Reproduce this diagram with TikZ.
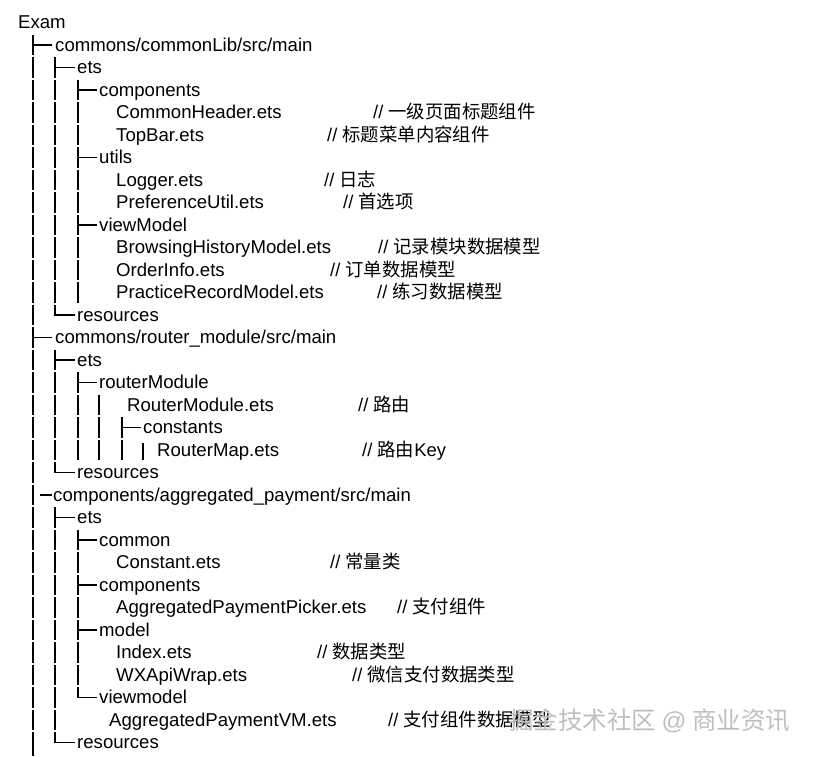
\documentclass[tikz,border=0pt]{standalone}
\usepackage{fontspec}
\setmainfont{Liberation Sans}
\newfontfamily\cjk{Noto Sans CJK SC}
\tikzset{
  tree/.style={line width=1.3pt, black},
  txt/.style={anchor=base west, inner sep=0pt, font=\fontsize{18.6}{22}\selectfont},
  cmt/.style={anchor=base west, inner sep=0pt, font=\fontsize{18.4}{22}\selectfont},
  wmark/.style={anchor=base west, inner sep=0pt, text=gray!50, font=\fontsize{24.5}{28}\selectfont\cjk}
}
% vertical run of row segments at x=#1 over rows #2..#3
\newcommand\treerun[3]{\foreach \r in {#2,...,#3}{\draw[tree] (#1,{22.5*\r+12.45}) -- (#1,{22.5*\r+32.55});}}
% tee branch at x=#1, row #2, horizontal to #3
\newcommand\treetee[3]{\draw[tree] (#1,{22.5*#2+12.45}) -- (#1,{22.5*#2+32.55}); \draw[tree] (#1,{22.5*#2+22.5}) -- (#3,{22.5*#2+22.5});}
% corner branch
\newcommand\treecorner[3]{\draw[tree] (#1,{22.5*#2+12.45}) -- (#1,{22.5*#2+22.5}) -- (#3,{22.5*#2+22.5});}
\begin{document}
\begin{tikzpicture}[x=1pt,y=-1pt]
\useasboundingbox (0,0) rectangle (814,756);
\fill[white] (0,0) rectangle (814,756);

% ---- tree lines ----
% level 1
\treetee{33}{1}{52}
\treerun{33}{2}{13}
\treetee{33}{14}{52}
\treerun{33}{15}{31}
\draw[tree] (33,{22.5*32+12.45}) -- (33,756);
\draw[tree] (40,{22.5*21+22.5}) -- (52,{22.5*21+22.5});
% level 2
\treetee{55}{2}{75}
\treerun{55}{3}{12}
\treecorner{55}{13}{75}
\treetee{55}{15}{75}
\treerun{55}{16}{19}
\treecorner{55}{20}{75}
\treetee{55}{22}{75}
\treerun{55}{23}{31}
\treecorner{55}{32}{75}
% level 3
\treetee{78}{3}{97}
\treerun{78}{4}{5}
\treetee{78}{6}{97}
\treerun{78}{7}{8}
\treetee{78}{9}{97}
\treerun{78}{10}{12}
\treetee{78}{16}{97}
\treerun{78}{17}{19}
\treetee{78}{23}{97}
\treerun{78}{24}{24}
\treetee{78}{25}{97}
\treerun{78}{26}{26}
\treetee{78}{27}{97}
\treerun{78}{28}{29}
\treecorner{78}{30}{97}
% router deeper levels
\treerun{99}{17}{19}
\treetee{122}{18}{141}
\treerun{122}{19}{19}
\draw[tree] (143,{22.5*19+15}) -- (143,{22.5*19+32.55});

% ---- texts ----
\node[txt] (n0)  at (18,{28.5+22.5*0})  {Exam};
\node[txt] (n1)  at (55,{28.5+22.5*1})  {commons/commonLib/src/main};
\node[txt] (n2)  at (77,{28.5+22.5*2})  {ets};
\node[txt] (n3)  at (99,{28.5+22.5*3})  {components};
\node[txt] (n4)  at (116,{28.5+22.5*4}) {CommonHeader.ets};
\node[txt] (n5)  at (116,{28.5+22.5*5}) {TopBar.ets};
\node[txt] (n6)  at (99,{28.5+22.5*6})  {utils};
\node[txt] (n7)  at (116,{28.5+22.5*7}) {Logger.ets};
\node[txt] (n8)  at (116,{28.5+22.5*8}) {PreferenceUtil.ets};
\node[txt] (n9)  at (99,{28.5+22.5*9})  {viewModel};
\node[txt] (n10) at (116,{28.5+22.5*10}) {BrowsingHistoryModel.ets};
\node[txt] (n11) at (116,{28.5+22.5*11}) {OrderInfo.ets};
\node[txt] (n12) at (116,{28.5+22.5*12}) {PracticeRecordModel.ets};
\node[txt] (n13) at (77,{28.5+22.5*13})  {resources};
\node[txt] (n14) at (55,{28.5+22.5*14})  {commons/router\_module/src/main};
\node[txt] (n15) at (77,{28.5+22.5*15})  {ets};
\node[txt] (n16) at (99,{28.5+22.5*16})  {routerModule};
\node[txt] (n17) at (127,{28.5+22.5*17}) {RouterModule.ets};
\node[txt] (n18) at (143,{28.5+22.5*18}) {constants};
\node[txt] (n19) at (157,{28.5+22.5*19}) {RouterMap.ets};
\node[txt] (n20) at (77,{28.5+22.5*20})  {resources};
\node[txt] (n21) at (53,{28.5+22.5*21})  {components/aggregated\_payment/src/main};
\node[txt] (n22) at (77,{28.5+22.5*22})  {ets};
\node[txt] (n23) at (99,{28.5+22.5*23})  {common};
\node[txt] (n24) at (116,{28.5+22.5*24}) {Constant.ets};
\node[txt] (n25) at (99,{28.5+22.5*25})  {components};
\node[txt] (n26) at (116,{28.5+22.5*26}) {AggregatedPaymentPicker.ets};
\node[txt] (n27) at (99,{28.5+22.5*27})  {model};
\node[txt] (n28) at (116,{28.5+22.5*28}) {Index.ets};
\node[txt] (n29) at (116,{28.5+22.5*29}) {WXApiWrap.ets};
\node[txt] (n30) at (99,{28.5+22.5*30})  {viewmodel};
\node[txt] (n31) at (109,{28.5+22.5*31}) {AggregatedPaymentVM.ets};
\node[txt] (n32) at (77,{28.5+22.5*32})  {resources};

% ---- comments ----
\node[cmt] (c4)  at (373,{28.5+22.5*4})  {// {\cjk 一级页面标题组件}};
\node[cmt] (c5)  at (327,{28.5+22.5*5})  {// {\cjk 标题菜单内容组件}};
\node[cmt] (c7)  at (324,{28.5+22.5*7})  {// {\cjk 日志}};
\node[cmt] (c8)  at (343,{28.5+22.5*8})  {// {\cjk 首选项}};
\node[cmt] (c10) at (378,{28.5+22.5*10}) {// {\cjk 记录模块数据模型}};
\node[cmt] (c11) at (330,{28.5+22.5*11}) {// {\cjk 订单数据模型}};
\node[cmt] (c12) at (377,{28.5+22.5*12}) {// {\cjk 练习数据模型}};
\node[cmt] (c17) at (358,{28.5+22.5*17}) {// {\cjk 路由}};
\node[cmt] (c19) at (362,{28.5+22.5*19}) {// {\cjk 路由}Key};
\node[cmt] (c24) at (330,{28.5+22.5*24}) {// {\cjk 常量类}};
\node[cmt] (c26) at (397,{28.5+22.5*26}) {// {\cjk 支付组件}};
\node[cmt] (c28) at (317,{28.5+22.5*28}) {// {\cjk 数据类型}};
\node[cmt] (c29) at (352,{28.5+22.5*29}) {// {\cjk 微信支付数据类型}};
\node[cmt] (c31) at (388,{28.5+22.5*31}) {// {\cjk 支付组件数据模型}};

% ---- watermark ----
\node[wmark] (wm) at (509,{28.5+22.5*31+3}) {掘金技术社区 {\fontspec{Liberation Sans}@} 商业资讯};
\end{tikzpicture}
\end{document}
